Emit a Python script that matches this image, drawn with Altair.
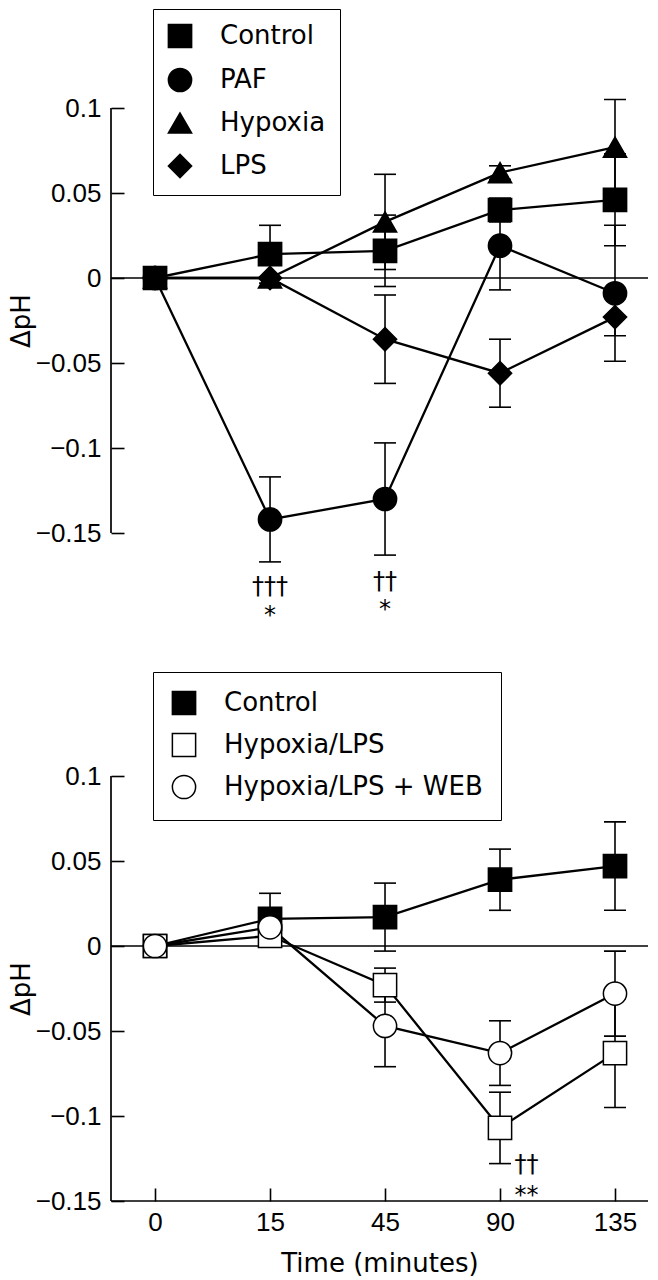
import altair as alt
import pandas as pd

# ---------------- data ----------------
TIME_LABELS = ["0", "15", "45", "90", "135"]
TIME_INDEX = [0, 1, 2, 3, 4]

TOP_SERIES = ["Control", "PAF", "Hypoxia", "LPS"]
TOP_CONTROL = [0.0, 0.014, 0.016, 0.040, 0.046]
TOP_CONTROL_ERR = [0.0, 0.017, 0.021, 0.007, 0.027]
TOP_PAF = [0.0, -0.142, -0.130, 0.019, -0.009]
TOP_PAF_ERR = [0.0, 0.025, 0.033, 0.026, 0.040]
TOP_HYPOXIA = [0.0, 0.0, 0.033, 0.062, 0.077]
TOP_HYPOXIA_ERR = [0.0, 0.0, 0.028, 0.004, 0.028]
TOP_LPS = [0.0, 0.0, -0.036, -0.056, -0.023]
TOP_LPS_ERR = [0.0, 0.0, 0.026, 0.020, 0.011]

BOT_SERIES = ["Control", "Hypoxia/LPS", "Hypoxia/LPS + WEB"]
BOT_CONTROL = [0.0, 0.016, 0.017, 0.039, 0.047]
BOT_CONTROL_ERR = [0.0, 0.015, 0.020, 0.018, 0.026]
BOT_HL = [0.0, 0.006, -0.023, -0.107, -0.063]
BOT_HL_ERR = [0.0, 0.004, 0.010, 0.021, 0.032]
BOT_WEB = [0.0, 0.011, -0.047, -0.063, -0.028]
BOT_WEB_ERR = [0.0, 0.004, 0.024, 0.019, 0.025]

TOP_ANN_T = [1, 1, 2, 2]
TOP_ANN_Y = [-0.182, -0.199, -0.179, -0.195]
TOP_ANN_TEXT = ["†††", "*", "††", "*"]
BOT_ANN_T = [3.23, 3.23]
BOT_ANN_Y = [-0.129, -0.147]
BOT_ANN_TEXT = ["††", "**"]

Y_TICKS = [-0.15, -0.1, -0.05, 0, 0.05, 0.1]

# ---------------- layout / style ----------------
XDOM = [-0.383, 4.287]
YDOM = [-0.15, 0.1]
W, H = 537, 425
WORD_FONT = "DejaVu Sans"
NUM_FONT = "Liberation Sans"


def long_table(names, means, errs):
    rows = []
    for name, m, e in zip(names, means, errs):
        for t, v, er in zip(TIME_INDEX, m, e):
            rows.append(dict(series=name, t=t, mean=v, err=er, lo=v - er, hi=v + er))
    return pd.DataFrame(rows)


x_label_expr = "[" + ",".join("'%s'" % s for s in TIME_LABELS) + "][datum.value]"
y_label_expr = "replace(format(datum.value, '.2~f'), '-', '\u2212')"


def panel(df, series, shapes, fills, ann, show_x, legend_y, legend_pad, row_pad):
    xs = alt.Scale(domain=XDOM, nice=False, zero=False)
    ys = alt.Scale(domain=YDOM, nice=False, zero=False)
    yaxis = alt.Axis(values=Y_TICKS, offset=-13, domain=False, tickSize=13, tickWidth=1.6,
                     tickColor="black", labelFont=NUM_FONT, labelFontSize=26, labelColor="black",
                     labelPadding=10, labelExpr=y_label_expr, grid=False, title="ΔpH",
                     titleFont=WORD_FONT, titleFontSize=26, titleFontWeight="normal",
                     titleColor="black", titlePadding=1)
    if show_x:
        xaxis = alt.Axis(values=TIME_INDEX, offset=-13, domain=False, tickSize=13, tickWidth=1.6,
                         tickColor="black", labelFont=NUM_FONT, labelFontSize=26,
                         labelColor="black", labelPadding=8, labelExpr=x_label_expr, grid=False,
                         title="Time (minutes)", titleFont=WORD_FONT, titleFontSize=26,
                         titleFontWeight="normal", titleColor="black", titlePadding=15)
    else:
        xaxis = None

    def X(f):
        return alt.X(f, type="quantitative", scale=xs, axis=xaxis)

    def Y(f):
        return alt.Y(f, type="quantitative", scale=ys, axis=yaxis)

    base = alt.Chart(df)
    layers = []
    layers.append(alt.Chart(pd.DataFrame({"y": [0.0]})).mark_rule(color="black", strokeWidth=1.5)
                  .encode(y=Y("y")))
    layers.append(alt.Chart(pd.DataFrame({"x": [XDOM[0]]})).mark_rule(color="black", strokeWidth=1.7)
                  .encode(x=X("x")))
    if show_x:
        layers.append(alt.Chart(pd.DataFrame({"y": [YDOM[0]]})).mark_rule(color="black", strokeWidth=1.7)
                      .encode(y=Y("y")))
    eb = base.transform_filter("datum.err > 0")
    layers.append(eb.mark_rule(color="black", strokeWidth=1.6).encode(x=X("t"), y=Y("lo"), y2="hi"))
    for f in ["lo", "hi"]:
        layers.append(eb.mark_tick(orient="horizontal", size=22, thickness=1.6, color="black", opacity=1)
                      .encode(x=X("t"), y=Y(f)))
    layers.append(base.mark_line(color="black", strokeWidth=2.3)
                  .encode(x=X("t"), y=Y("mean"), detail="series:N", order="t:Q"))
    legend = alt.Legend(orient="none", legendX=42, legendY=legend_y, title=None,
                        strokeColor="black", fillColor="white", padding=legend_pad,
                        labelFont=WORD_FONT, labelFontSize=26, labelColor="black",
                        labelOffset=27, labelLimit=500, rowPadding=row_pad, symbolSize=540,
                        symbolStrokeColor="black", symbolStrokeWidth=1.5)
    layers.append(base.mark_point(filled=True, opacity=1, strokeWidth=1.5, size=540)
                  .encode(x=X("t"), y=Y("mean"),
                          shape=alt.Shape("series:N", scale=alt.Scale(domain=series, range=shapes),
                                          legend=legend),
                          fill=alt.Fill("series:N", scale=alt.Scale(domain=series, range=fills),
                                        legend=legend),
                          stroke=alt.Stroke("series:N",
                                            scale=alt.Scale(domain=series, range=["black"] * len(series)),
                                            legend=legend)))
    layers.append(alt.Chart(ann).mark_text(font=WORD_FONT, fontSize=24, color="black", baseline="middle")
                  .encode(x=X("t"), y=Y("y"), text="text:N"))
    return alt.layer(*layers).properties(width=W, height=H)


top_df = long_table(TOP_SERIES,
                    [TOP_CONTROL, TOP_PAF, TOP_HYPOXIA, TOP_LPS],
                    [TOP_CONTROL_ERR, TOP_PAF_ERR, TOP_HYPOXIA_ERR, TOP_LPS_ERR])
bot_df = long_table(BOT_SERIES,
                    [BOT_CONTROL, BOT_HL, BOT_WEB],
                    [BOT_CONTROL_ERR, BOT_HL_ERR, BOT_WEB_ERR])
top_ann = pd.DataFrame({"t": TOP_ANN_T, "y": TOP_ANN_Y, "text": TOP_ANN_TEXT})
bot_ann = pd.DataFrame({"t": BOT_ANN_T, "y": BOT_ANN_Y, "text": BOT_ANN_TEXT})

top = panel(top_df, TOP_SERIES, ["square", "circle", "triangle-up", "diamond"],
            ["black", "black", "black", "black"], top_ann, False, -99, 14, 14)
bottom = panel(bot_df, BOT_SERIES, ["square", "square", "circle"],
               ["black", "white", "white"], bot_ann, True, -104, 18, 12)

chart = (alt.vconcat(top, bottom, spacing=243, bounds="flush")
         .resolve_scale(shape="independent", fill="independent", stroke="independent")
         .resolve_legend(shape="independent", fill="independent", stroke="independent")
         .properties(padding=0)
         .configure_view(stroke=None))

chart.save("out.html", embed_options={"renderer": "svg", "actions": False})
